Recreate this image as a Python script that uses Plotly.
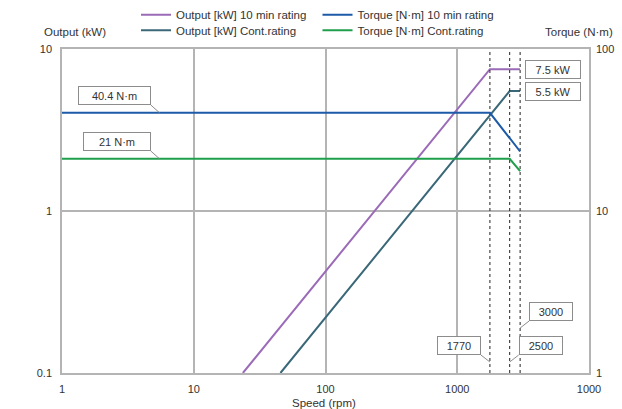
import numpy as np
import plotly.graph_objects as go

# ---------------- data ----------------
speed_out10 = [23.6, 1770, 3000]
out10 = [0.1, 7.5, 7.5]
speed_outc = [45.5, 2500, 3000]
outc = [0.1, 5.5, 5.5]
speed_tq10 = [1, 1770, 3000]
tq10 = [40.4, 40.4, 23.3]
speed_tqc = [1, 2500, 3000]
tqc = [21, 21, 17.6]
marker_speeds = [1770, 2500, 3000]

x_tickvals = [1, 10, 100, 1000, 10000]
x_ticktext = ["1", "10", "100", "1000", "1000"]
y_tickvals = [0.1, 1, 10]
y_ticktext = ["0.1", "1", "10"]
y2_tickvals = [1, 10, 100]
y2_ticktext = ["1", "10", "100"]

FONT = "Liberation Sans, Arial, Noto Sans CJK JP, sans-serif"
TXT = "#333333"
GRID = "#b4b4b4"
C_PURPLE = "#9b6bb8"
C_BLUE = "#1d5aa8"
C_TEAL = "#3a6878"
C_GREEN = "#1f9e4b"

fig = go.Figure()

fig.add_trace(go.Scatter(x=speed_out10, y=out10, mode="lines", name="Output [kW] 10 min rating",
                         line=dict(color=C_PURPLE, width=2), legend="legend"))
fig.add_trace(go.Scatter(x=speed_tq10, y=tq10, mode="lines", name="Torque [N·m] 10 min rating",
                         line=dict(color=C_BLUE, width=2), yaxis="y2", legend="legend2"))
fig.add_trace(go.Scatter(x=speed_outc, y=outc, mode="lines", name="Output [kW] Cont.rating",
                         line=dict(color=C_TEAL, width=2), legend="legend3"))
fig.add_trace(go.Scatter(x=speed_tqc, y=tqc, mode="lines", name="Torque [N·m] Cont.rating",
                         line=dict(color=C_GREEN, width=2), yaxis="y2", legend="legend4"))

for s in marker_speeds:
    fig.add_trace(go.Scatter(x=[s, s], y=[0.1, 10], mode="lines", showlegend=False,
                             line=dict(color="#222222", width=1, dash="3px,3px"), hoverinfo="skip"))

box = dict(font=dict(family=FONT, size=11, color=TXT), bgcolor="white", bordercolor="#8c8c8c",
           borderwidth=1, borderpad=2, showarrow=False, height=13)
annotations = []

def leader(yref, xv, yv, dx, dy, yoff=0):
    # thin leader line from (point + (dx, dy) px) to point (yoff px above yv)
    annotations.append(dict(text="", xref="x", yref=yref, x=np.log10(xv), y=np.log10(yv),
                            yshift=yoff, showarrow=True, arrowhead=0, arrowwidth=1,
                            arrowcolor="#8c8c8c", ax=dx, ay=dy, standoff=0, startstandoff=0,
                            borderpad=0, borderwidth=0))

# power labels at end of output curves
annotations.append(dict(box, text="7.5 kW", x=np.log10(speed_out10[-1]), y=np.log10(out10[-1]),
                        xref="x", yref="y", xanchor="left", yanchor="middle", xshift=5, width=50))
annotations.append(dict(box, text="5.5 kW", x=np.log10(speed_outc[-1]), y=np.log10(outc[-1]),
                        xref="x", yref="y", xanchor="left", yanchor="middle", xshift=5, width=50))

# torque labels
LBL_SPEED = 5.5
annotations.append(dict(box, text="40.4 N·m", x=np.log10(LBL_SPEED), y=np.log10(tq10[0]),
                        xref="x", yref="y2", xanchor="right", yanchor="bottom", xshift=-9, yshift=8, width=67))
leader("y2", LBL_SPEED, tq10[0], -9, -8)
annotations.append(dict(box, text="21 N·m", x=np.log10(LBL_SPEED), y=np.log10(tqc[0]),
                        xref="x", yref="y2", xanchor="right", yanchor="bottom", xshift=-9, yshift=8, width=62))
leader("y2", LBL_SPEED, tqc[0], -9, -8)

# speed labels
annotations.append(dict(box, text="1770", x=np.log10(1770), y=np.log10(0.1), xref="x", yref="y",
                        xanchor="right", yanchor="bottom", xshift=-9, yshift=18, width=38))
leader("y", 1770, 0.1, -9, -7, yoff=11)
annotations.append(dict(box, text="2500", x=np.log10(2500), y=np.log10(0.1), xref="x", yref="y",
                        xanchor="left", yanchor="bottom", xshift=9, yshift=18, width=38))
leader("y", 2500, 0.1, 9, -7, yoff=11)
annotations.append(dict(box, text="3000", x=np.log10(3000), y=np.log10(0.1), xref="x", yref="y",
                        xanchor="left", yanchor="bottom", xshift=9, yshift=52, width=38))
leader("y", 3000, 0.1, 9, -7, yoff=45)

# axis titles
tfont = dict(family=FONT, size=11.5, color=TXT)
annotations.append(dict(text="Output (kW)", xref="paper", yref="paper", x=-0.038, y=1.054,
                        xanchor="left", yanchor="middle", showarrow=False, font=tfont))
annotations.append(dict(text="Torque (N·m)", xref="paper", yref="paper", x=1.05, y=1.054,
                        xanchor="right", yanchor="middle", showarrow=False, font=tfont))
annotations.append(dict(text="Speed (rpm)", xref="paper", yref="paper", x=0.497, y=-0.094,
                        xanchor="center", yanchor="middle", showarrow=False, font=tfont))

tickfont = dict(family=FONT, size=11, color=TXT)
axis_common = dict(type="log", showline=True, linecolor=GRID, linewidth=1.5, ticks="",
                   tickfont=tickfont, showgrid=True, gridcolor=GRID, gridwidth=1.5)

legend_font = dict(family=FONT, size=11.5, color=TXT)

def legend_at(xpx, ypx):
    return dict(orientation="h", xref="container", yref="container", x=xpx / 622, y=1 - ypx / 409,
                xanchor="left", yanchor="middle", font=legend_font,
                bgcolor="rgba(0,0,0,0)", itemwidth=30)

fig.update_layout(
    width=622, height=409,
    margin=dict(l=62, r=33, t=49, b=36, autoexpand=False),
    paper_bgcolor="white", plot_bgcolor="white",
    font=dict(family=FONT, color=TXT),
    xaxis=dict(axis_common, range=[0, 4], tickvals=x_tickvals, ticktext=x_ticktext, mirror=True,
               ticklabelstandoff=5),
    yaxis=dict(axis_common, range=[-1, 1], tickvals=y_tickvals, ticktext=y_ticktext, mirror=True,
               ticklabelstandoff=6),
    yaxis2=dict(type="log", overlaying="y", side="right", range=[0, 2], tickvals=y2_tickvals,
                ticktext=y2_ticktext, showgrid=False, showline=False, tickfont=tickfont,
                ticklabelstandoff=6),
    legend=legend_at(136, 14.7),
    legend2=legend_at(317.5, 14.7),
    legend3=legend_at(136, 30.3),
    legend4=legend_at(317.5, 30.3),
    annotations=annotations,
    showlegend=True,
)

fig.write_html("out.html")
